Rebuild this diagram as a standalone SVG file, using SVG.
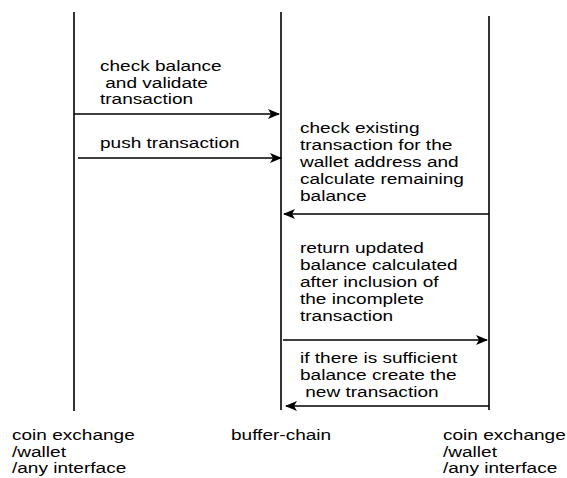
<svg xmlns="http://www.w3.org/2000/svg" width="567" height="478" viewBox="0 0 567 478">
<style>
.life{stroke:#000;stroke-width:1.6;fill:none}
.msg{stroke:#000;stroke-width:1.3;fill:none;marker-end:url(#ah)}
text{font-family:"Liberation Sans",Arial,sans-serif;font-size:15px;fill:#000}
</style>
<defs>
<marker id="ah" markerWidth="12" markerHeight="10" refX="11" refY="5" orient="auto" markerUnits="userSpaceOnUse">
<path d="M0,0 L12,5 L0,10 L3,5 Z" fill="#000"/>
</marker>
</defs>
<rect width="567" height="478" fill="#fff"/>
<g id="lifeline-left"><line class="life" x1="74" y1="12" x2="74" y2="411"/>
<g transform="translate(12,0) scale(1.27,1)"><text x="0" y="440">coin exchange</text><text x="0" y="457">/wallet</text><text x="0" y="473">/any interface</text></g></g>
<g id="lifeline-middle"><line class="life" x1="281" y1="12" x2="281" y2="410"/>
<g transform="translate(231,0) scale(1.27,1)"><text x="0" y="440">buffer-chain</text></g></g>
<g id="lifeline-right"><line class="life" x1="489" y1="16" x2="489" y2="410"/>
<g transform="translate(443,0) scale(1.27,1)"><text x="0" y="440">coin exchange</text><text x="0" y="457">/wallet</text><text x="0" y="473">/any interface</text></g></g>
<g id="connectors">
<line class="msg" x1="74" y1="114" x2="279" y2="114"/>
<line class="msg" x1="78" y1="158" x2="281" y2="158"/>
<line class="msg" x1="489" y1="214" x2="284" y2="214"/>
<line class="msg" x1="283" y1="340" x2="487" y2="340"/>
<line class="msg" x1="489" y1="406" x2="286" y2="406"/>
</g>
<g id="labels">
<g transform="translate(100,0) scale(1.27,1)">
<text x="0" y="71">check balance</text>
<text x="0" y="88" xml:space="preserve"> and validate</text>
<text x="0" y="104">transaction</text>
<text x="0" y="148">push transaction</text>
</g>
<g transform="translate(300,0) scale(1.27,1)">
<text x="0" y="133">check existing</text>
<text x="0" y="150">transaction for the</text>
<text x="0" y="167">wallet address and</text>
<text x="0" y="184">calculate remaining</text>
<text x="0" y="201">balance</text>
<text x="0" y="253">return updated</text>
<text x="0" y="270">balance calculated</text>
<text x="0" y="287">after inclusion of</text>
<text x="0" y="304">the incomplete</text>
<text x="0" y="321">transaction</text>
<text x="0" y="363">if there is sufficient</text>
<text x="0" y="380">balance create the</text>
<text x="0" y="397" xml:space="preserve"> new transaction</text>
</g>
</g>
</svg>
